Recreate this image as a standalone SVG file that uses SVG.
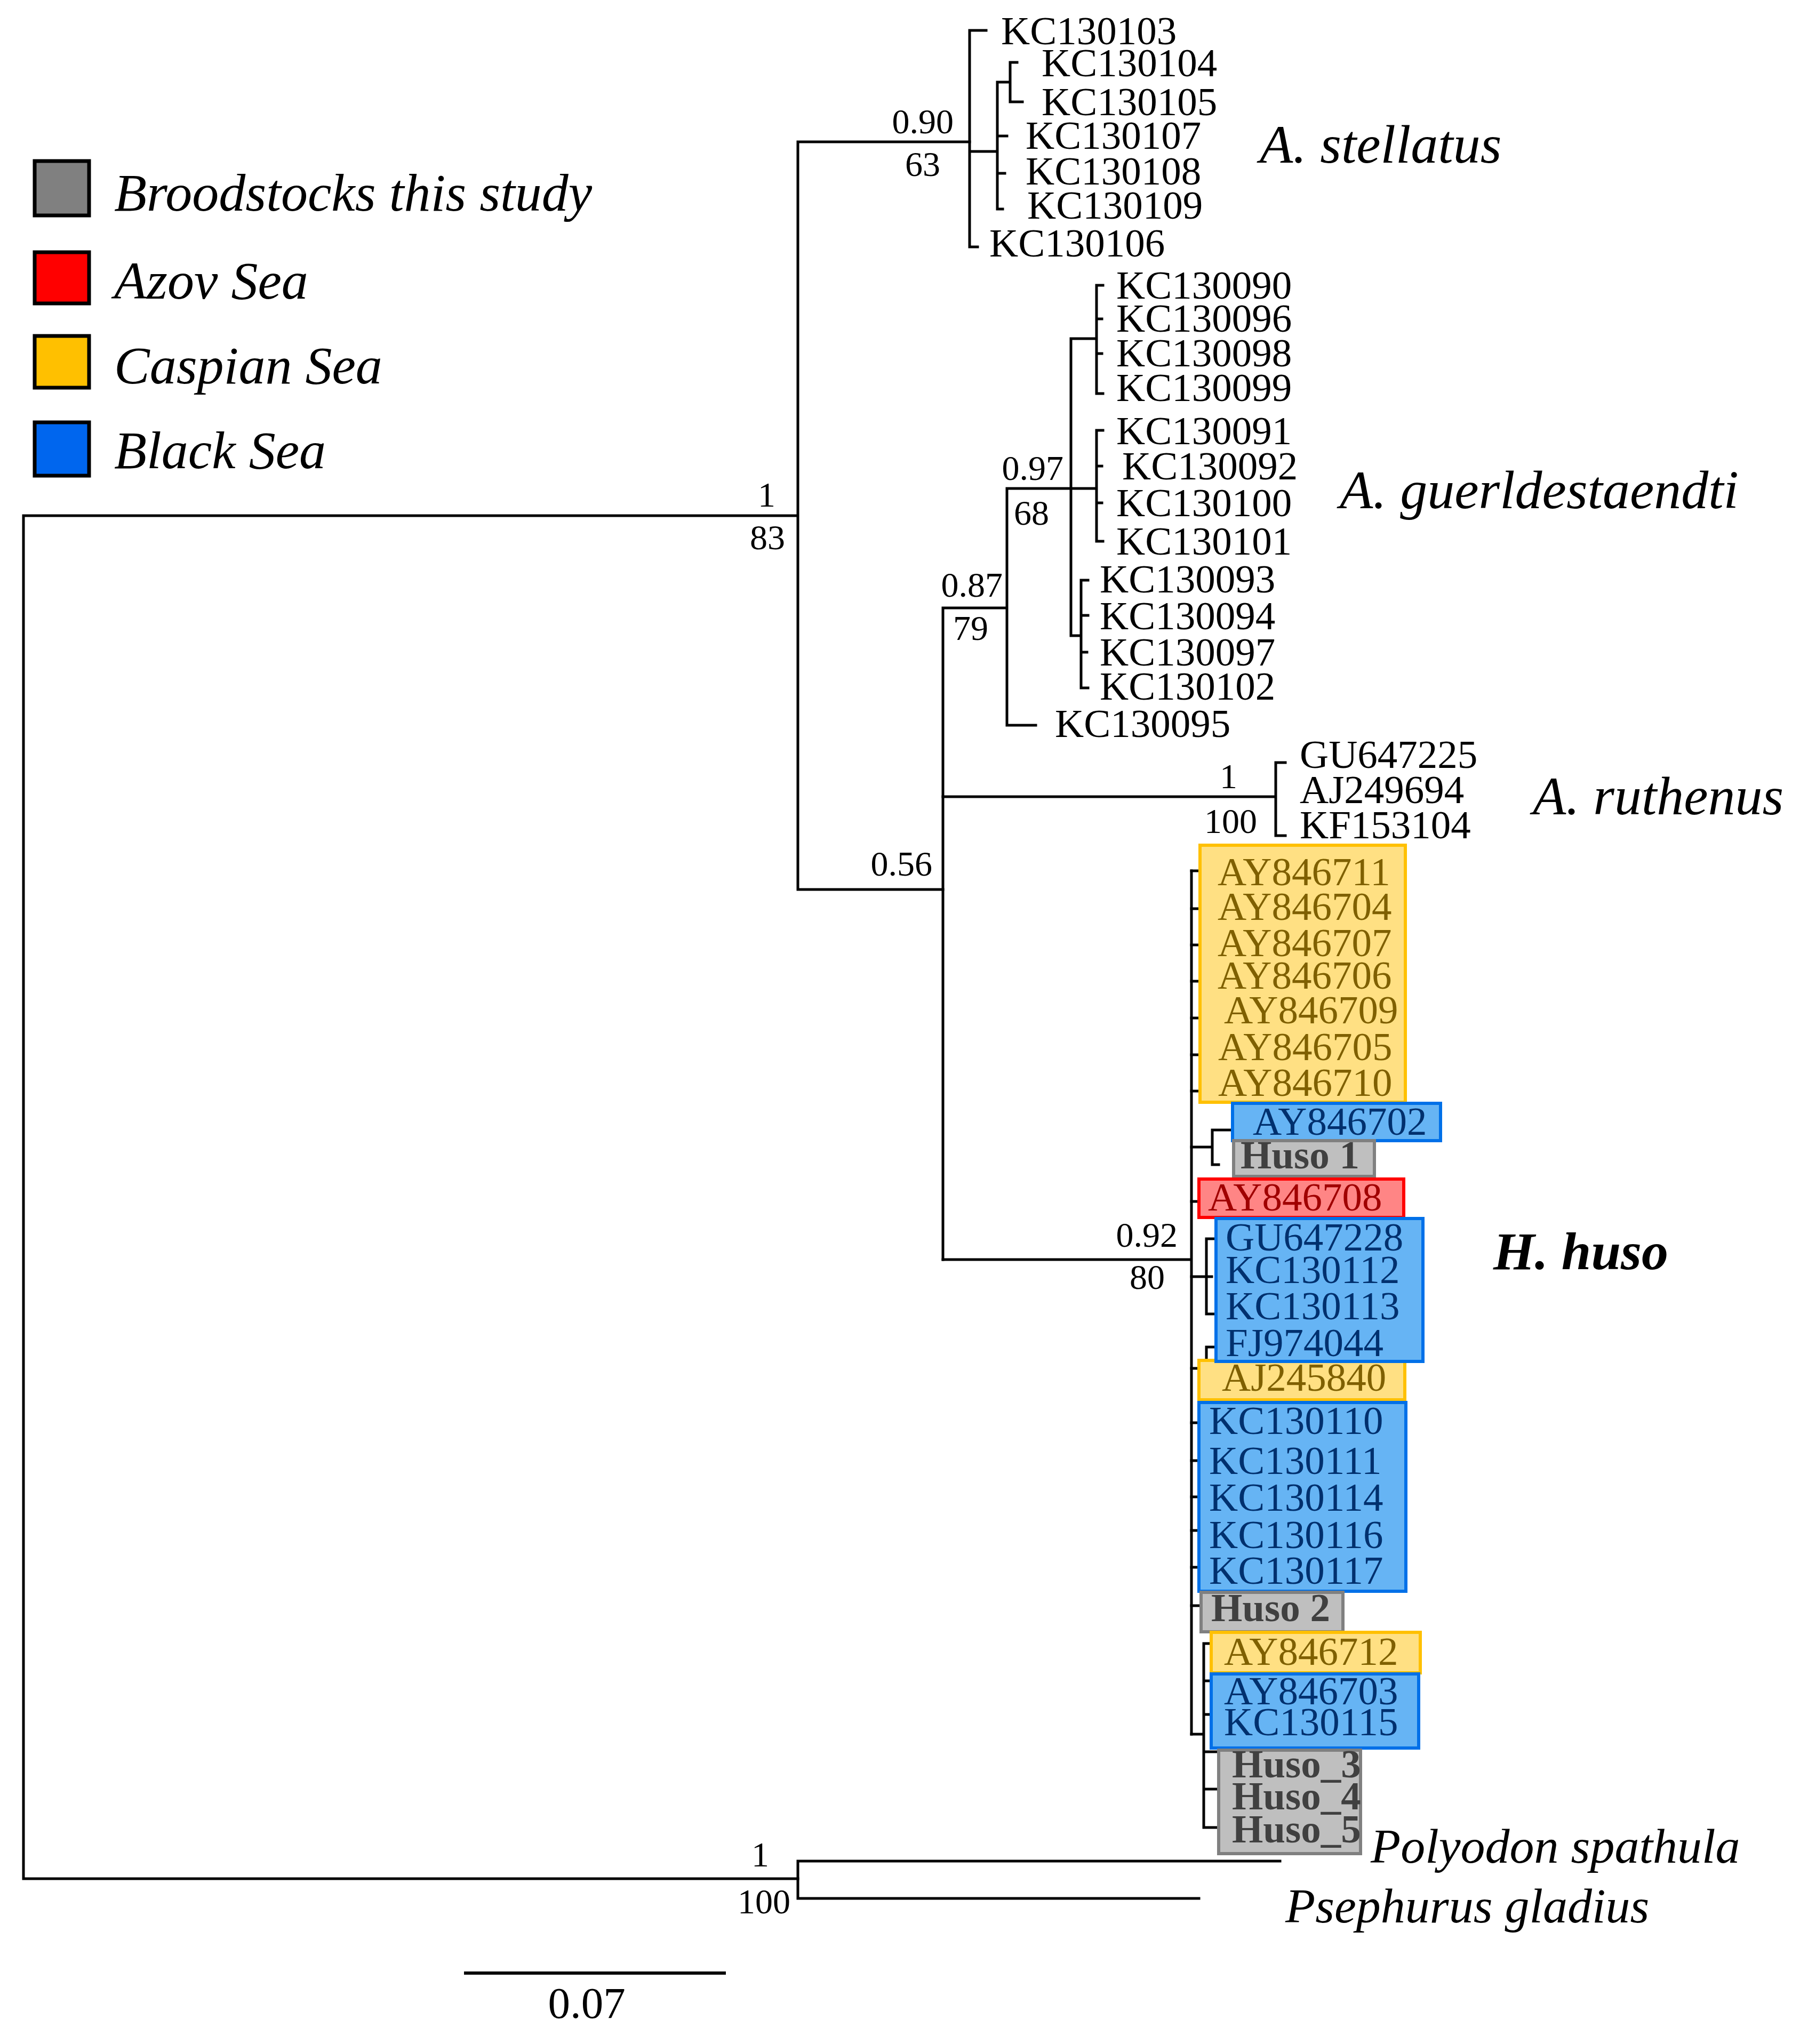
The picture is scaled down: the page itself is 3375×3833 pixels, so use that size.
<svg xmlns="http://www.w3.org/2000/svg" width="3375" height="3833" viewBox="0 0 3375 3833">
<style>
.br{stroke:#000;stroke-width:5;fill:none;stroke-linecap:square}
.leaf{font-family:"Liberation Serif",serif;font-size:75px;fill:#000}
.sup{font-family:"Liberation Serif",serif;font-size:66px;fill:#000;text-anchor:end}
.sp{font-family:"Liberation Serif",serif;font-style:italic;font-size:102px;fill:#000}
.leg{font-family:"Liberation Serif",serif;font-style:italic;font-size:100px;fill:#000}
.cy{fill:#ffe083;stroke:#ffc000;stroke-width:6}
.cb{fill:#66b4f4;stroke:#0070e8;stroke-width:6}
.cr{fill:#ff8585;stroke:#ff0000;stroke-width:6}
.cg{fill:#bfbfbf;stroke:#808080;stroke-width:6}
.ty{fill:#7f6000}
.tb{fill:#00306e}
.tr{fill:#a00000}
.tg{fill:#404040;font-weight:bold}
</style>
<rect width="3375" height="3833" fill="#fff"/>
<g id="legend">
<rect x="65" y="302" width="102" height="102" fill="#808080" stroke="#000" stroke-width="7"/>
<text class="leg" x="214" y="395">Broodstocks this study</text>
<rect x="65" y="473" width="102" height="96" fill="#ff0000" stroke="#000" stroke-width="7"/>
<text class="leg" x="214" y="560">Azov Sea</text>
<rect x="65" y="630" width="102" height="97" fill="#ffc000" stroke="#000" stroke-width="7"/>
<text class="leg" x="214" y="719">Caspian Sea</text>
<rect x="65" y="792" width="102" height="100" fill="#0066ee" stroke="#000" stroke-width="7"/>
<text class="leg" x="214" y="878">Black Sea</text>
</g>
<g id="connectors" class="br">
<path d="M44,967H1496M44,967V3523H1496M1496,266V1668M1496,266H1818M1496,1668H1768"/>
<path d="M1818,57V463M1818,57H1849M1818,463H1833M1818,284H1870M1870,154V392M1870,154H1894M1894,117V191M1894,117H1907M1894,191H1917M1870,255H1888M1870,325H1884M1870,392H1880"/>
<path d="M1768,1140V2362M1768,1140H1888M1888,916V1360M1888,1360H1942M1888,916H2056M2008,635V1192M2008,635H2056M2056,535V738M2056,535H2068M2056,598H2066M2056,663H2066M2056,738H2068M2056,807V1015M2056,807H2068M2056,874H2066M2056,943H2066M2056,1015H2068M2008,1192H2027M2027,1088V1290M2027,1088H2040M2027,1154H2040M2027,1223H2038M2027,1290H2040"/>
<path d="M1768,1494H2392M2392,1430V1567M2392,1430H2410M2392,1567H2410"/>
<path d="M1768,2362H2234M2234,1633V3252"/>
<path d="M2234,1633H2252M2234,1704H2252M2234,1772H2252M2234,1840H2252M2234,1909H2252M2234,1978H2252M2234,2046H2252"/>
<path d="M2234,2151H2273M2273,2119V2184M2273,2119H2310M2273,2184H2285M2234,2253H2248"/>
<path d="M2234,2394H2272M2262,2323V2464M2262,2323H2280M2262,2464H2280M2234,2566H2262M2262,2526V2593M2262,2526H2280M2262,2593H2270"/>
<path d="M2234,2668H2248M2234,2739H2248M2234,2807H2248M2234,2870H2248M2234,2939H2248M2234,3011H2252"/>
<path d="M2234,3252H2257M2257,3082V3427M2257,3082H2272M2257,3152H2272M2257,3215H2272M2257,3285H2285M2257,3355H2285M2257,3427H2285"/>
<path d="M1496,3490V3560M1496,3490H2400M1496,3560H2248"/>
<path d="M873,3700H1358" stroke-width="6"/>
</g>
<g id="supports">
<text class="sup" x="1454" y="950">1</text>
<text class="sup" x="1472" y="1030">83</text>
<text class="sup" x="1788" y="250">0.90</text>
<text class="sup" x="1763" y="330">63</text>
<text class="sup" x="1994" y="900">0.97</text>
<text class="sup" x="1967" y="984">68</text>
<text class="sup" x="1880" y="1119">0.87</text>
<text class="sup" x="1853" y="1200">79</text>
<text class="sup" x="1748" y="1642">0.56</text>
<text class="sup" x="2320" y="1478">1</text>
<text class="sup" x="2357" y="1562">100</text>
<text class="sup" x="2208" y="2338">0.92</text>
<text class="sup" x="2184" y="2417">80</text>
<text class="sup" x="1442" y="3500">1</text>
<text class="sup" x="1482" y="3588">100</text>
<text x="1100" y="3784" font-family="Liberation Serif, serif" font-size="83" text-anchor="middle">0.07</text>
</g>
<g id="stellatus">
<text class="leaf" x="1877" y="83">KC130103</text>
<text class="leaf" x="1953" y="143">KC130104</text>
<text class="leaf" x="1953" y="216">KC130105</text>
<text class="leaf" x="1923" y="279">KC130107</text>
<text class="leaf" x="1923" y="346">KC130108</text>
<text class="leaf" x="1926" y="410">KC130109</text>
<text class="leaf" x="1855" y="481">KC130106</text>
<text class="sp" x="2362" y="305">A. stellatus</text>
</g>
<g id="guerldestaendti">
<text class="leaf" x="2093" y="560">KC130090</text>
<text class="leaf" x="2093" y="622">KC130096</text>
<text class="leaf" x="2093" y="687">KC130098</text>
<text class="leaf" x="2093" y="752">KC130099</text>
<text class="leaf" x="2093" y="833">KC130091</text>
<text class="leaf" x="2104" y="899">KC130092</text>
<text class="leaf" x="2093" y="968">KC130100</text>
<text class="leaf" x="2093" y="1040">KC130101</text>
<text class="leaf" x="2062" y="1111">KC130093</text>
<text class="leaf" x="2062" y="1180">KC130094</text>
<text class="leaf" x="2062" y="1248">KC130097</text>
<text class="leaf" x="2062" y="1312">KC130102</text>
<text class="leaf" x="1978" y="1382">KC130095</text>
<text class="sp" x="2512" y="953">A. guerldestaendti</text>
</g>
<g id="ruthenus">
<text class="leaf" x="2437" y="1440">GU647225</text>
<text class="leaf" x="2437" y="1506">AJ249694</text>
<text class="leaf" x="2437" y="1572">KF153104</text>
<text class="sp" x="2874" y="1527">A. ruthenus</text>
</g>
<g id="huso">
<rect class="cy" x="2250" y="1585" width="385" height="482"/>
<text class="leaf ty" x="2283" y="1660">AY846711</text>
<text class="leaf ty" x="2283" y="1725">AY846704</text>
<text class="leaf ty" x="2283" y="1793">AY846707</text>
<text class="leaf ty" x="2283" y="1854">AY846706</text>
<text class="leaf ty" x="2295" y="1919">AY846709</text>
<text class="leaf ty" x="2284" y="1988">AY846705</text>
<text class="leaf ty" x="2284" y="2055">AY846710</text>
<rect class="cb" x="2311" y="2069" width="390" height="70"/>
<text class="leaf tb" x="2349" y="2128">AY846702</text>
<rect class="cg" x="2313" y="2139" width="264" height="67"/>
<text class="leaf tg" x="2326" y="2191">Huso 1</text>
<rect class="cr" x="2248" y="2211" width="384" height="72"/>
<text class="leaf tr" x="2265" y="2270">AY846708</text>
<rect class="cy" x="2248" y="2551" width="386" height="74"/>
<text class="leaf ty" x="2291" y="2608">AJ245840</text>
<rect class="cb" x="2280" y="2285" width="388" height="268"/>
<text class="leaf tb" x="2298" y="2345">GU647228</text>
<text class="leaf tb" x="2298" y="2406">KC130112</text>
<text class="leaf tb" x="2298" y="2474">KC130113</text>
<text class="leaf tb" x="2298" y="2543">FJ974044</text>
<rect class="cb" x="2248" y="2630" width="388" height="354"/>
<text class="leaf tb" x="2267" y="2689">KC130110</text>
<text class="leaf tb" x="2267" y="2764">KC130111</text>
<text class="leaf tb" x="2267" y="2833">KC130114</text>
<text class="leaf tb" x="2267" y="2903">KC130116</text>
<text class="leaf tb" x="2267" y="2970">KC130117</text>
<rect class="cg" x="2252" y="2986" width="266" height="74"/>
<text class="leaf tg" x="2271" y="3040">Huso 2</text>
<rect class="cy" x="2271" y="3061" width="392" height="76"/>
<text class="leaf ty" x="2295" y="3122">AY846712</text>
<rect class="cb" x="2271" y="3139" width="389" height="139"/>
<text class="leaf tb" x="2295" y="3196">AY846703</text>
<text class="leaf tb" x="2295" y="3254">KC130115</text>
<rect class="cg" x="2285" y="3282" width="266" height="194"/>
<text class="leaf tg" x="2310" y="3333">Huso_3</text>
<text class="leaf tg" x="2310" y="3393">Huso_4</text>
<text class="leaf tg" x="2310" y="3455">Huso_5</text>
<text x="2800" y="2380" font-family="Liberation Serif, serif" font-size="100" font-style="italic" font-weight="bold">H. huso</text>
</g>
<g id="outgroups">
<text class="sp" x="2570" y="3493" font-size="92" style="font-size:92px">Polyodon spathula</text>
<text class="sp" x="2410" y="3605" style="font-size:92px">Psephurus gladius</text>
</g>
</svg>
